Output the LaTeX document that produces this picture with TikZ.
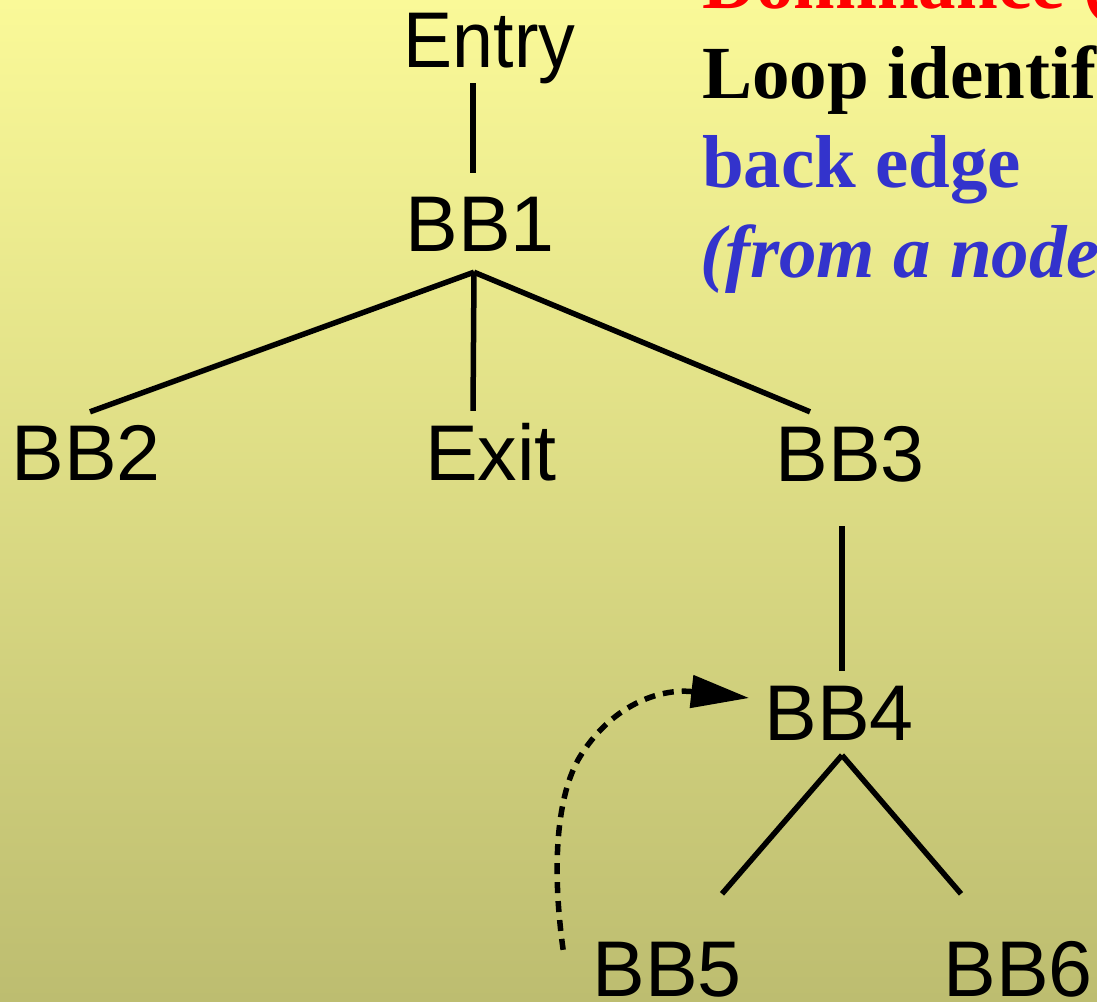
\documentclass[tikz,border=0pt]{standalone}
\usepackage{fontspec}
\setmainfont{Liberation Sans}
\newfontfamily\timesf{Liberation Serif}
\usetikzlibrary{arrows.meta}
\definecolor{bgtop}{RGB}{250,249,152}
\definecolor{bgbot}{RGB}{189,189,112}
\definecolor{hiblue}{RGB}{51,51,204}
\begin{document}
\begin{tikzpicture}[x=1pt,y=-1pt,
  bb/.style={font=\fontsize{79}{79}\selectfont, inner sep=0pt, anchor=base, text height=56pt, text depth=0pt},
  edge/.style={line width=5.5pt},
  back/.style={line width=5.5pt, dash pattern=on 11pt off 8pt, -{Triangle[length=58pt,width=32pt]}},
  note/.style={font=\timesf\bfseries\fontsize{75}{75}\selectfont, anchor=base west, inner sep=0pt}]
\useasboundingbox (0,0) rectangle (1097,1001);
\shade[top color=bgtop,bottom color=bgbot] (0,0) rectangle (1097,1001);

\node[note, text=red] (dom) at (702,9) {Dominance (};
\node[note] (loop) at (702,98) {Loop identifi};
\node[note, text=hiblue] (back) at (702,187) {back edge};
\node[note, text=hiblue, font=\timesf\bfseries\itshape\fontsize{75}{75}\selectfont] (from) at (700,277) {(from a node};

\node[bb] (entry) at (489.5,67) {\scalebox{0.93}[1]{Entry}};
\node[bb] (bb1) at (480,251) {BB1};
\node[bb] (bb2) at (86,480) {BB2};
\node[bb] (exit) at (491,480) {Exit};
\node[bb] (bb3) at (850,481) {BB3};
\node[bb] (bb4) at (839,740) {BB4};
\node[bb] (bb5) at (667,996) {BB5};
\node[bb] (bb6) at (1018,996) {BB6};

\draw[edge] ([shift={(-16.5,16)}]entry.south) -- ([shift={(-7,-22)}]bb1.north);
\draw[edge] ([shift={(-6,21)}]bb1.south) -- ([shift={(4,-12)}]bb2.north);
\draw[edge] ([shift={(-6,21)}]bb1.south) -- ([shift={(-18,-13)}]exit.north);
\draw[edge] ([shift={(-6,21)}]bb1.south) -- ([shift={(-40,-13)}]bb3.north);
\draw[edge] ([shift={(-8,45)}]bb3.south) -- ([shift={(3,-13)}]bb4.north);
\draw[edge] ([shift={(3,15)}]bb4.south) -- ([shift={(55,-46)}]bb5.north);
\draw[edge] ([shift={(3,15)}]bb4.south) -- ([shift={(-57,-46)}]bb6.north);
\draw[back] ([shift={(-29,10)}]bb5.north west) .. controls (552,870) and (556,800) .. (578,760)
  .. controls (610,705) and (660,688) .. ([shift={(-15,-14)}]bb4.west);
\end{tikzpicture}
\end{document}
